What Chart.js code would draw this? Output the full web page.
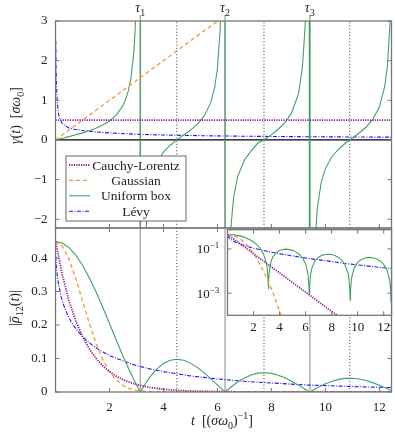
<!DOCTYPE html>
<html lang="en">
<head>
<meta charset="UTF-8">
<title>Dephasing rate and coherence</title>
<script src="https://cdn.jsdelivr.net/npm/chart.js"></script>
<style>
  body { margin: 0; background: #fff; }
  #wrap { position: relative; width: 395px; height: 437px; }
  canvas { position: absolute; left: 0; top: 0; }
</style>
</head>
<body>
<div id="wrap">
  <canvas id="topChart" width="395" height="437"></canvas>
  <canvas id="bottomChart" width="395" height="437"></canvas>
  <canvas id="insetChart" width="395" height="437"></canvas>
</div>
<script>
// reference times (units of (sigma*omega0)^-1)
const tau = [3.1416, 6.2832, 9.4248];
const roots = [4.4934, 7.7253, 10.9041];
const xTicks = [2, 4, 6, 8, 10, 12];
const legendNames = ["Cauchy-Lorentz", "Gaussian", "Uniform box", "Lévy"];

// top panel: gamma(t) [sigma*omega0]
const tLorentzG = [0, 12.6];
const gLorentz = [0.5, 0.5];
const tGaussG = [0, 6.6];
const gGauss = [0, 3.3];
const tBoxG = [0, 0.25, 0.5, 0.75, 1, 1.25, 1.5, 1.75, 2, 2.25, 2.5, 2.6, 2.7, 2.8, 2.9, 2.95, 3, 3.05, 3.1, 3.14,
  3.143, 3.2, 3.25, 3.3, 3.4, 3.5, 3.75, 4, 4.25, 4.5, 4.75, 5, 5.25, 5.5, 5.75, 5.9, 6, 6.1, 6.15, 6.2, 6.28,
  6.286, 6.35, 6.4, 6.5, 6.6, 6.75, 7, 7.25, 7.5, 7.75, 8, 8.25, 8.5, 8.75, 9, 9.15, 9.25, 9.3, 9.4, 9.42,
  9.43, 9.5, 9.6, 9.7, 9.85, 10, 10.25, 10.5, 10.75, 11, 11.25, 11.5, 11.75, 12, 12.2, 12.3, 12.4, 12.5];
const gBox = [0, 0.042, 0.085, 0.13, 0.179, 0.234, 0.298, 0.376, 0.479, 0.626, 0.869, 1.024, 1.243, 1.585, 2.202, 2.748, 3.674, 5.6, 12.18, 314,
  -354, -8.39, -4.44, -2.98, -1.745, -1.192, -0.584, -0.307, -0.132, 0.003, 0.124, 0.248, 0.393, 0.593, 0.934, 1.336, 1.802, 2.781, 3.81, 6.08, 157,
  -178, -7.4, -4.18, -2.19, -1.451, -0.918, -0.504, -0.276, -0.078, 0.012, 0.136, 0.27, 0.436, 0.682, 1.161, 1.829, 2.879, 4.04, 20.2, 104,
  -96, -6.58, -2.77, -1.721, -1.054, -0.722, -0.41, -0.226, -0.076, 0.048, 0.175, 0.32, 0.513, 0.827, 1.355, 1.865, 3.018, 7.57];
const tLevyG = [0.01, 0.02, 0.035, 0.05, 0.07, 0.1, 0.13, 0.17, 0.25, 0.35, 0.5, 0.7, 1, 1.5, 2, 3, 4, 5, 6, 7, 8, 9, 10, 11, 12, 12.6];
const gLevy = [2.5, 1.9, 1.4, 1.15, 0.9, 0.72, 0.6, 0.52, 0.42, 0.36, 0.3, 0.27, 0.24, 0.204, 0.177, 0.144, 0.125, 0.112, 0.102, 0.094, 0.088, 0.083, 0.079, 0.075, 0.072, 0.07];

// bottom panel and inset: |rho12(t)|
const tLorentz = [0, 0.25, 0.5, 0.75, 1, 1.25, 1.5, 1.75, 2, 2.25, 2.5, 2.75, 3, 3.5, 4, 4.5, 5, 6, 7, 8, 9, 10, 11, 12.6];
const rLorentz = [0.45, 0.3505, 0.2729, 0.2126, 0.1655, 0.1289, 0.1004, 0.0782, 0.0609, 0.0474, 0.0369, 0.0288, 0.0224, 0.0136, 0.0082, 0.005, 0.003, 0.0011, 0.00041, 0.00015, 0.000056, 0.00002, 0.0000075, 0.0000015];
const tGauss = [0, 0.25, 0.5, 0.75, 1, 1.25, 1.5, 1.75, 2, 2.25, 2.5, 2.75, 3, 3.25, 3.5, 3.75, 4, 4.25, 4.5, 5, 6, 8, 12.6];
const rGauss = [0.45, 0.4362, 0.3971, 0.3397, 0.2729, 0.2061, 0.1461, 0.0973, 0.0609, 0.0358, 0.0198, 0.0103, 0.005, 0.0023, 0.00099, 0.0004, 0.00015, 0.000054, 0.000018, 0.0000017, 7e-9, 6e-15, 1e-30];
const tBox = [0, 0.25, 0.5, 0.75, 1, 1.25, 1.5, 1.75, 2, 2.25, 2.5, 2.75, 3, 3.0416, 3.1116, 3.1416, 3.1716, 3.2416, 3.35, 3.5,
  3.75, 4, 4.25, 4.5, 4.75, 5, 5.25, 5.5, 5.75, 6, 6.1832, 6.2532, 6.2832, 6.3132, 6.3832, 6.5, 6.75, 7, 7.25, 7.5,
  7.75, 8, 8.25, 8.5, 8.75, 9, 9.25, 9.3248, 9.3948, 9.4248, 9.4548, 9.5248, 9.75, 10, 10.25, 10.5, 10.75, 11, 11.25, 11.5,
  11.75, 12, 12.25, 12.45, 12.5, 12.536, 12.566, 12.6];
const rBox = [0.45, 0.4453, 0.4315, 0.409, 0.3787, 0.3416, 0.2993, 0.253, 0.2046, 0.1556, 0.1077, 0.0625, 0.0212, 0.0148, 0.0043, 0.0015, 0.0043, 0.0139, 0.0278, 0.0451,
  0.0686, 0.0851, 0.0948, 0.0977, 0.0947, 0.0863, 0.0736, 0.0577, 0.0398, 0.021, 0.0073, 0.0022, 0.0009, 0.0021, 0.007, 0.0149, 0.03, 0.0422, 0.0511, 0.0563,
  0.0577, 0.0557, 0.0503, 0.0423, 0.0321, 0.0206, 0.0085, 0.0048, 0.0014, 0.0005, 0.0014, 0.0047, 0.0147, 0.0245, 0.0322, 0.0377, 0.0406, 0.0409, 0.0387, 0.0343,
  0.028, 0.0201, 0.0114, 0.0042, 0.0024, 0.0011, 0.0004, 0.0012];
const tLevy = [0.01, 0.03, 0.06, 0.1, 0.2, 0.3, 0.45, 0.6, 0.8, 1, 1.25, 1.5, 1.75, 2, 2.5, 3, 3.5, 4, 5, 6, 7, 8, 9, 10, 11, 12, 12.6];
const rLevy = [0.405, 0.378, 0.352, 0.328, 0.287, 0.26, 0.23, 0.207, 0.184, 0.166, 0.147, 0.132, 0.12, 0.109, 0.093, 0.079, 0.069, 0.061, 0.048, 0.039, 0.032, 0.027, 0.022, 0.019, 0.0163, 0.0141, 0.0129];

const seriesStyle = [
  { borderColor: "#8e1a8e", borderWidth: 1.8, borderDash: [1.2, 1.2] },
  { borderColor: "#ff9430", borderWidth: 1.3, borderDash: [4, 3] },
  { borderColor: "#43a063", borderWidth: 1.1, borderDash: [] },
  { borderColor: "#1a1aff", borderWidth: 1.1, borderDash: [4, 1.5, 1, 1.5] },
];

Chart.defaults.font.family = '"Liberation Serif", serif';
Chart.defaults.font.size = 13;
Chart.defaults.color = "#222";

const pts = (xs, ys) => xs.map((x, i) => ({ x: x, y: ys[i] }));
const vLines = (xs, lo, hi) => xs.flatMap((x) => [{ x: x, y: lo }, { x: x, y: hi }, { x: x, y: null }]);
const serie = (data, i) => Object.assign({ data: data, pointRadius: 0, tension: 0, fill: false }, seriesStyle[i]);
const minus = (v) => (v < 0 ? "\u2212" + -v : String(v));

// text with italic / subscript / superscript / overbar parts
function rich(ctx, parts, x, y, rot, size) {
  size = size || 14;
  const font = (p) => {
    const small = p[1].includes("s") || p[1].includes("u");
    return (p[1].includes("i") ? "italic " : "") + (small ? Math.round(size * 0.7) : size) + 'px "Liberation Serif", serif';
  };
  let w = 0;
  const ws = parts.map((p) => { ctx.font = font(p); const m = ctx.measureText(p[0]).width; w += m; return m; });
  ctx.save();
  ctx.translate(x, y);
  ctx.rotate(rot || 0);
  ctx.fillStyle = "#222";
  ctx.strokeStyle = "#222";
  ctx.textAlign = "left";
  ctx.textBaseline = "alphabetic";
  let cx = -w / 2;
  parts.forEach((p, i) => {
    ctx.font = font(p);
    let dy = size * 0.35;
    if (p[1].includes("s")) dy += size * 0.28;
    if (p[1].includes("u")) dy -= size * 0.4;
    ctx.fillText(p[0], cx, dy);
    if (p[1].includes("b")) {
      ctx.lineWidth = 0.8;
      ctx.beginPath();
      ctx.moveTo(cx + 1, dy - size * 0.62);
      ctx.lineTo(cx + ws[i], dy - size * 0.62);
      ctx.stroke();
    }
    cx += ws[i];
  });
  ctx.restore();
}

// frame with inner ticks
function frame(chart, xt, yt, topTicks) {
  const ctx = chart.ctx, a = chart.chartArea;
  const sx = chart.scales.x, sy = chart.scales.y;
  ctx.save();
  ctx.strokeStyle = "#777";
  ctx.lineWidth = 1;
  ctx.beginPath();
  xt.forEach((v) => {
    const p = sx.getPixelForValue(v);
    ctx.moveTo(p, a.bottom); ctx.lineTo(p, a.bottom - 4);
    if (topTicks) { ctx.moveTo(p, a.top); ctx.lineTo(p, a.top + 4); }
  });
  yt.forEach((v) => {
    const p = sy.getPixelForValue(v);
    ctx.moveTo(a.left, p); ctx.lineTo(a.left + 4, p);
    ctx.moveTo(a.right, p); ctx.lineTo(a.right - 4, p);
  });
  ctx.stroke();
  ctx.lineWidth = 1.3;
  ctx.strokeRect(a.left, a.top, a.right - a.left, a.bottom - a.top);
  ctx.restore();
}

function drawLegend(ctx) {
  const x = 66, y = 156, w = 120, h = 65;
  ctx.save();
  ctx.fillStyle = "#fff";
  ctx.fillRect(x, y, w, h);
  ctx.strokeStyle = "#444";
  ctx.lineWidth = 0.8;
  ctx.strokeRect(x, y, w, h);
  legendNames.forEach((name, i) => {
    const ry = y + 9 + i * 15.4;
    const st = seriesStyle[i];
    ctx.strokeStyle = st.borderColor;
    ctx.lineWidth = st.borderWidth;
    ctx.setLineDash(st.borderDash);
    ctx.beginPath();
    ctx.moveTo(x + 3, ry);
    ctx.lineTo(x + 24, ry);
    ctx.stroke();
    ctx.setLineDash([]);
    ctx.fillStyle = "#222";
    ctx.font = '13.5px "Liberation Serif", serif';
    ctx.textAlign = "center";
    ctx.textBaseline = "middle";
    ctx.fillText(name, x + 70, ry + 1);
  });
  ctx.restore();
}

const base = (pad) => ({
  responsive: false,
  animation: false,
  devicePixelRatio: 1,
  events: [],
  layout: { padding: pad },
  plugins: { legend: { display: false }, tooltip: { enabled: false } },
});

const tauStyle = { borderColor: "#b4b4b4", borderWidth: 1.6, pointRadius: 0, spanGaps: false };
const rootStyle = { borderColor: "#3a3a3a", borderWidth: 1, borderDash: [1, 2.2], pointRadius: 0, spanGaps: false };

// ---- top panel ----
new Chart(document.getElementById("topChart"), {
  type: "line",
  data: {
    datasets: [
      serie(pts(tLorentzG, gLorentz), 0),
      serie(pts(tGaussG, gGauss), 1),
      serie(pts(tBoxG, gBox), 2),
      serie(pts(tLevyG, gLevy), 3),
      { data: pts([0, 12.6], [0, 0]), borderColor: "#000", borderWidth: 1.3, pointRadius: 0 },
      Object.assign({ data: vLines(roots, -2.22, 3) }, rootStyle),
      Object.assign({ data: vLines(tau, -2.22, 3) }, tauStyle),
    ],
  },
  options: Object.assign(base({ left: 0, right: 3.5, top: 21, bottom: 209 }), {
    scales: {
      x: { type: "linear", min: 0, max: 12.45, display: false },
      y: {
        min: -2.22, max: 3,
        grid: { display: false, drawTicks: false },
        border: { display: false },
        ticks: { stepSize: 1, includeBounds: false, padding: 8, callback: minus },
        afterFit: (s) => { s.width = 55.5; },
      },
    },
  }),
  plugins: [{
    id: "topDeco",
    afterDatasetsDraw(chart) {
      const ctx = chart.ctx, sx = chart.scales.x, a = chart.chartArea;
      ctx.save();
      ctx.strokeStyle = "#b4b4b4";
      ctx.lineWidth = 1.6;
      ctx.beginPath();
      tau.forEach((v) => { const p = sx.getPixelForValue(v); ctx.moveTo(p, a.top); ctx.lineTo(p, a.top - 6); });
      ctx.stroke();
      ctx.restore();
      frame(chart, xTicks, [-2, -1, 0, 1, 2, 3], false);
      tau.forEach((v, i) => rich(ctx, [["τ", "i"], [String(i + 1), "s"]], sx.getPixelForValue(v), 7));
      rich(ctx, [["γ", "i"], ["(", ""], ["t", "i"], [")  [", ""], ["σω", "i"], ["0", "s"], ["]", ""]], 15, 115.5, -Math.PI / 2);
      drawLegend(ctx);
    },
  }],
});

// ---- bottom panel ----
new Chart(document.getElementById("bottomChart"), {
  type: "line",
  data: {
    datasets: [
      serie(pts(tLorentz, rLorentz), 0),
      serie(pts(tGauss, rGauss), 1),
      serie(pts(tBox, rBox), 2),
      serie(pts(tLevy, rLevy), 3),
      Object.assign({ data: vLines(roots, 0, 0.49) }, rootStyle),
      Object.assign({ data: vLines(tau, 0, 0.49) }, tauStyle),
    ],
  },
  options: Object.assign(base({ left: 0, right: 3.5, top: 228, bottom: 0 }), {
    scales: {
      x: {
        type: "linear", min: 0, max: 12.45,
        grid: { display: false, drawTicks: false },
        border: { display: false },
        ticks: { stepSize: 2, includeBounds: false, padding: 8, autoSkip: false, maxRotation: 0, callback: (v) => (v === 0 ? "" : v) },
        afterFit: (s) => { s.height = 45; },
      },
      y: {
        min: 0, max: 0.49,
        grid: { display: false, drawTicks: false },
        border: { display: false },
        ticks: { stepSize: 0.1, includeBounds: false, padding: 8, callback: (v) => (v === 0 ? "0" : v.toFixed(1)) },
        afterFit: (s) => { s.width = 55.5; },
      },
    },
  }),
  plugins: [{
    id: "bottomDeco",
    afterDatasetsDraw(chart) {
      const ctx = chart.ctx;
      frame(chart, xTicks, [0, 0.1, 0.2, 0.3, 0.4], true);
      rich(ctx, [["|", ""], ["ρ", "ib"], ["12", "s"], ["(", ""], ["t", "i"], [")|", ""]], 14, 308, -Math.PI / 2);
      rich(ctx, [["t", "i"], ["  [(", ""], ["σω", "i"], ["0", "s"], [")", ""], ["\u22121", "u"], ["]", ""]], 222, 420);
    },
  }],
});

// ---- inset (log scale) ----
new Chart(document.getElementById("insetChart"), {
  type: "line",
  data: {
    datasets: [
      serie(pts(tLorentz, rLorentz), 0),
      serie(pts(tGauss, rGauss), 1),
      serie(pts(tBox, rBox), 2),
      serie(pts(tLevy, rLevy), 3),
    ],
  },
  options: Object.assign(base({ left: 197.5, right: 3.5, top: 229.7, bottom: 101.7 }), {
    scales: {
      x: {
        type: "linear", min: 0, max: 12.6,
        grid: { display: false, drawTicks: false },
        border: { display: false },
        ticks: { stepSize: 2, includeBounds: false, padding: 4, autoSkip: false, maxRotation: 0, callback: (v) => (v === 0 ? "" : v) },
        afterFit: (s) => { s.height = 20; },
      },
      y: {
        type: "logarithmic", min: 0.0001, max: 0.74,
        display: true,
        grid: { display: false, drawTicks: false },
        border: { display: false },
        ticks: { display: false },
        afterFit: (s) => { s.width = 30; },
      },
    },
  }),
  plugins: [{
    id: "insetDeco",
    beforeDatasetsDraw(chart) {
      const ctx = chart.ctx, a = chart.chartArea;
      ctx.save();
      ctx.fillStyle = "#fff";
      ctx.fillRect(a.left, a.top, a.right - a.left, a.bottom - a.top);
      ctx.restore();
    },
    afterDatasetsDraw(chart) {
      const ctx = chart.ctx, sy = chart.scales.y;
      frame(chart, xTicks, [0.1, 0.001], true);
      rich(ctx, [["10", ""], ["\u22121", "u"]], 208, sy.getPixelForValue(0.1), 0, 13);
      rich(ctx, [["10", ""], ["\u22123", "u"]], 208, sy.getPixelForValue(0.001), 0, 13);
    },
  }],
});
</script>
</body>
</html>
